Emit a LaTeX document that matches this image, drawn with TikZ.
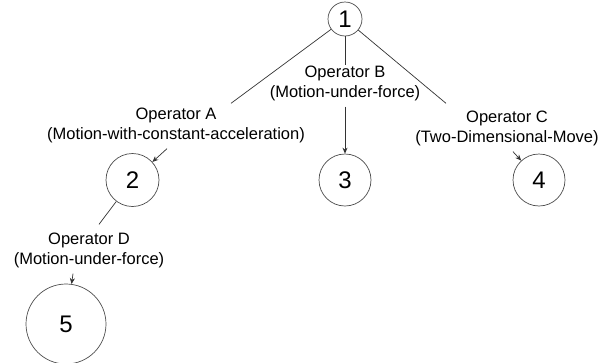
\documentclass[tikz,border=0pt]{standalone}
\usepackage{fontspec}
\setmainfont{Liberation Sans}
\usetikzlibrary{arrows.meta,positioning}

\begin{document}
\begin{tikzpicture}[x=1pt,y=-1pt,
  state/.style={circle,draw=black!70,line width=0.7pt,inner sep=0pt,font=\fontsize{24}{24}\selectfont},
  oplabel/.style={align=center,inner sep=0pt,font=\fontsize{16.5}{20}\selectfont},
  edge/.style={draw=black!80,line width=0.7pt},
  arr/.style={edge,-{Stealth[length=6pt,width=5pt]}}]

\useasboundingbox (0,0) rectangle (606,362);

% search states
\foreach \i/\x/\y/\s in {1/345/19/34,2/132.5/180/53,3/345/180/52,4/539/180/52,5/66/324/80}
  \node[state,minimum size=\s pt] (n\i) at (\x,\y) {\i};

% operators
\node[oplabel] (opA) at (176,125) {Operator A\\(Motion-with-constant-acceleration)};
\node[oplabel] (opB) at (345,83) {Operator B\\(Motion-under-force)};
\node[oplabel] (opC) at (507,128) {Operator C\\(Two-Dimensional-Move)};
\node[oplabel] (opD) at (89,250) {Operator D\\(Motion-under-force)};

\draw[edge] (n1) -- ([xshift=55pt,yshift=4pt]opA.north);
\draw[edge] (n1) -- (opB);
\draw[edge] (n1) -- ([xshift=-61pt,yshift=7pt]opC.north);
\draw[edge] (n2) -- ([xshift=10pt,yshift=8pt]opD.north);

\draw[arr] ([xshift=-9pt,yshift=-6pt]opA.south) -- (n2);
\draw[arr,shorten <=6pt] (opB) -- (n3);
\draw[arr] ([xshift=6pt,yshift=-6pt]opC.south) -- (n4);
\draw[arr] ([xshift=-16pt,yshift=-6pt]opD.south) -- (n5);

\end{tikzpicture}
\end{document}
